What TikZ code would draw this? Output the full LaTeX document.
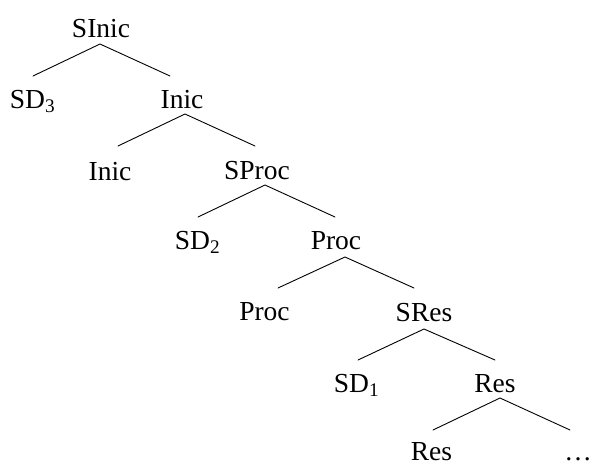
\documentclass[tikz,border=0pt]{standalone}
\usepackage{fontspec}
\setmainfont{Liberation Serif}
\begin{document}
\begin{tikzpicture}[x=1pt,y=-1pt,
  lbl/.style={anchor=base,inner sep=0pt,font=\fontsize{27.5}{30}\selectfont},
  edge/.style={line width=0.9pt,line cap=round}]
\useasboundingbox (0,0) rectangle (592,461);
% labels
\node[lbl] (SInic) at (101,37) {SInic};
\node[lbl] (SD3)   at (32.5,108) {SD\textsubscript{3}};
\node[lbl] (Inic)  at (182,108) {Inic};
\node[lbl] (InicL) at (110,180) {Inic};
\node[lbl] (SProc) at (257,179) {SProc};
\node[lbl] (SD2)   at (197.5,249) {SD\textsubscript{2}};
\node[lbl] (Proc)  at (336,249) {Proc};
\node[lbl] (ProcL) at (264.5,320) {Proc};
\node[lbl] (SRes)  at (424,321) {SRes};
\node[lbl] (SD1)   at (356.5,392) {SD\textsubscript{1}};
\node[lbl] (Res)   at (495,392) {Res};
\node[lbl] (ResL)  at (431.5,460) {Res};
\node[lbl] (Dots)  at (578,460) {…};
% branch points
\coordinate (SInic-b) at (100,44);
\coordinate (SD3-t)   at (33,76);
\coordinate (Inic-t)  at (170,76);
\coordinate (Inic-b)  at (185,114);
\coordinate (InicL-t) at (118,146);
\coordinate (SProc-t) at (255,146);
\coordinate (SProc-b) at (265,185);
\coordinate (SD2-t)   at (198,217);
\coordinate (Proc-t)  at (335,217);
\coordinate (Proc-b)  at (345,257);
\coordinate (ProcL-t) at (278,288);
\coordinate (SRes-t)  at (414,288);
\coordinate (SRes-b)  at (424,329);
\coordinate (SD1-t)   at (358,360);
\coordinate (Res-t)   at (495,360);
\coordinate (Res-b)   at (500,398);
\coordinate (ResL-t)  at (433,430);
\coordinate (Dots-t)  at (570,430);
% edges
\draw[edge] (SD3-t) -- (SInic-b) -- (Inic-t);
\draw[edge] (InicL-t) -- (Inic-b) -- (SProc-t);
\draw[edge] (SD2-t) -- (SProc-b) -- (Proc-t);
\draw[edge] (ProcL-t) -- (Proc-b) -- (SRes-t);
\draw[edge] (SD1-t) -- (SRes-b) -- (Res-t);
\draw[edge] (ResL-t) -- (Res-b) -- (Dots-t);
\end{tikzpicture}
\end{document}
